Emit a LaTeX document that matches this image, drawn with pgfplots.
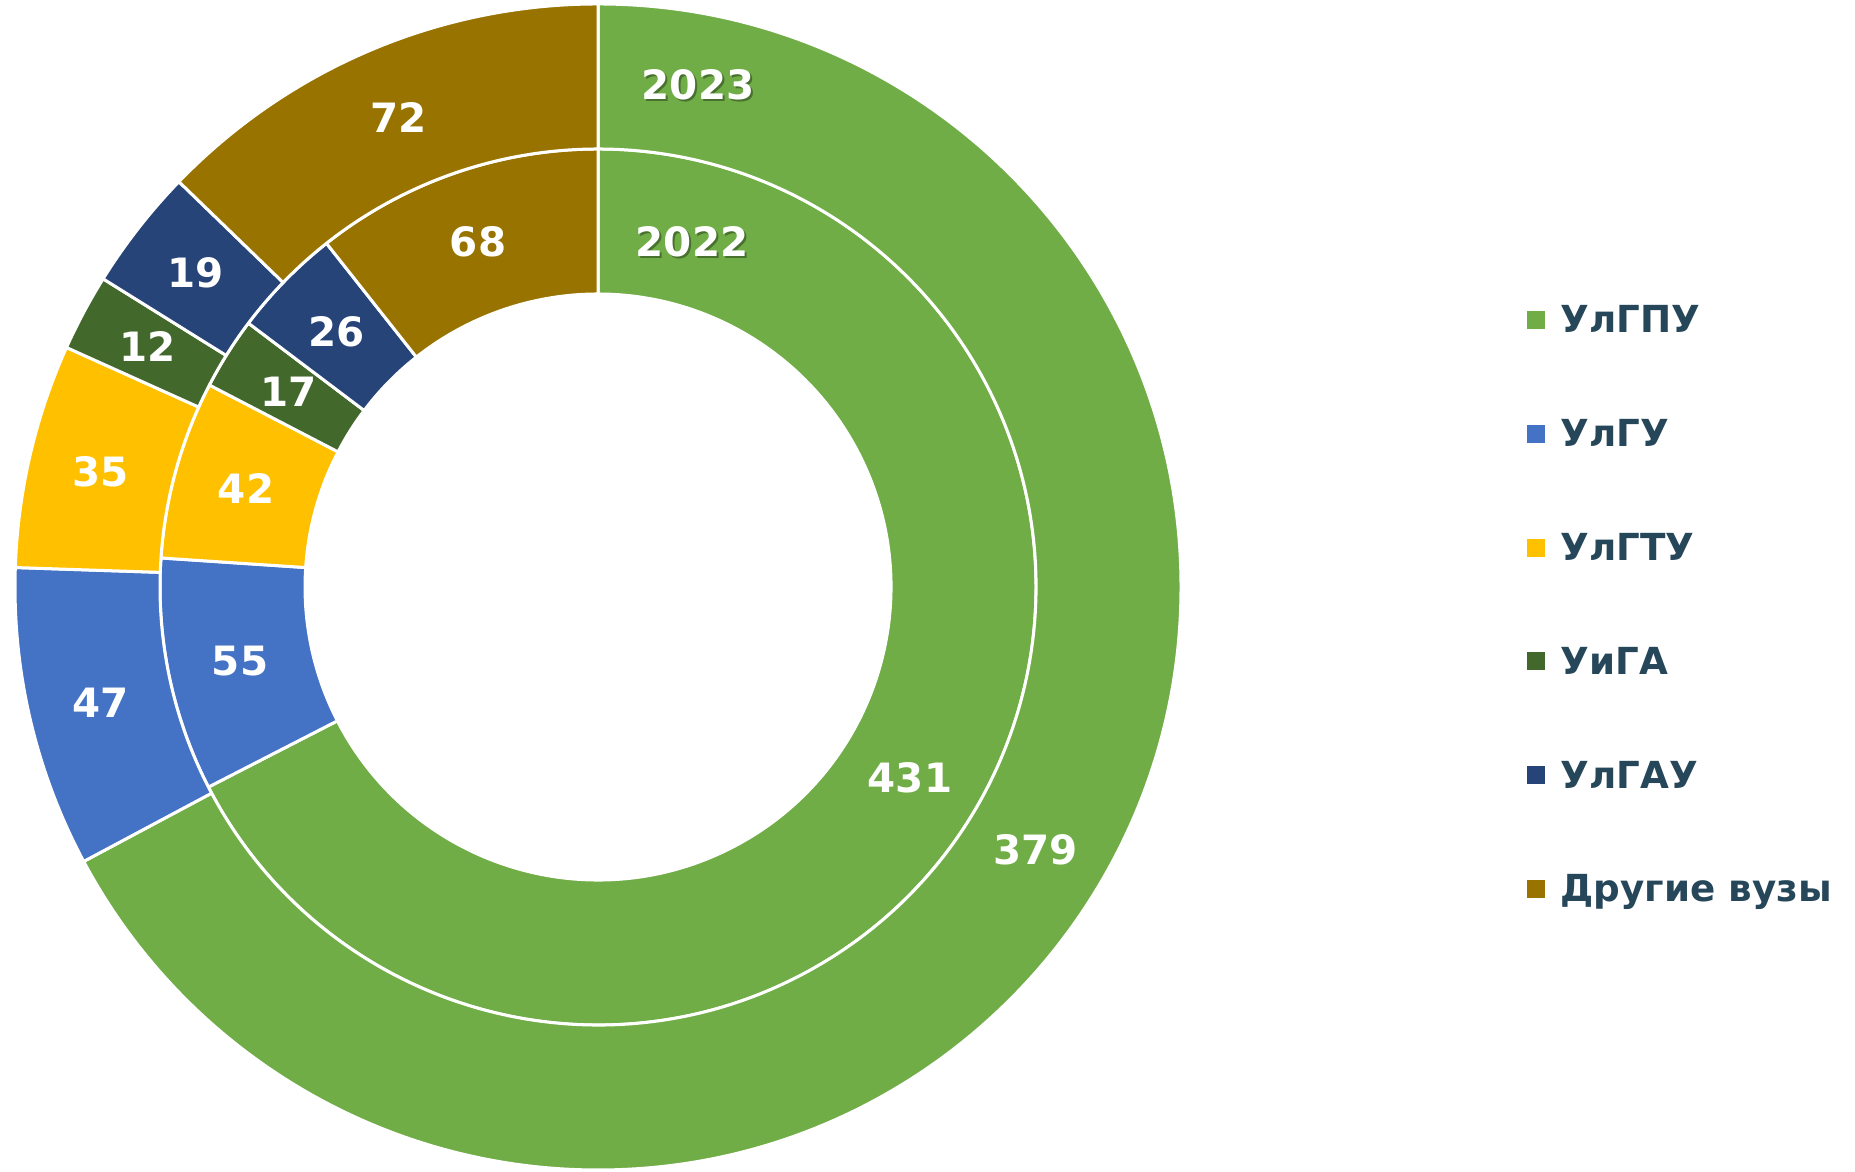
\documentclass[border=0pt]{standalone}
\usepackage{pgfplots}
\pgfplotsset{compat=1.18}
\usepackage{pgfplotstable}
\usepackage{fontspec}
\setmainfont{DejaVu Sans}

\definecolor{sec0}{HTML}{70AD47}
\definecolor{sec1}{HTML}{4472C4}
\definecolor{sec2}{HTML}{FFC000}
\definecolor{sec3}{HTML}{43682B}
\definecolor{sec4}{HTML}{264478}
\definecolor{sec5}{HTML}{997300}
\definecolor{legtext}{RGB}{38,70,90}

\tikzset{
  vlab/.style={text=white, inner sep=0pt, font=\bfseries\fontsize{11.5}{12}\selectfont},
  ltext/.style={text=legtext, inner sep=0pt, anchor=base west, font=\bfseries\fontsize{10.6}{12}\selectfont},
}

% students by university, 2022 (inner ring) and 2023 (outer ring)
\pgfplotstableread[col sep=comma]{
name,y2022,y2023
УлГПУ,431,379
УлГУ,55,47
УлГТУ,42,35
УиГА,17,12
УлГАУ,26,19
Другие вузы,68,72
}\data

% start/end angles of every slice, clockwise from 12 o'clock
\newcommand\ringangles[2]{%
  \def\tot{0}%
  \pgfplotsforeachungrouped \i in {0,...,5}{%
    \pgfplotstablegetelem{\i}{#1}\of\data
    \pgfmathsetmacro\tot{\tot+\pgfplotsretval}}%
  \def\cum{0}%
  \pgfplotsforeachungrouped \i in {0,...,5}{%
    \pgfplotstablegetelem{\i}{#1}\of\data
    \let\val\pgfplotsretval
    \pgfmathsetmacro\angA{90-360*(\cum/\tot)}%
    \pgfmathsetmacro\cum{\cum+\val}%
    \pgfmathsetmacro\angB{90-360*(\cum/\tot)}%
    \expandafter\xdef\csname #2a\i\endcsname{\angA}%
    \expandafter\xdef\csname #2b\i\endcsname{\angB}%
    \expandafter\xdef\csname #2v\i\endcsname{\val}%
  }}
\ringangles{y2022}{i}
\ringangles{y2023}{o}

% #1 colour, #2 inner r, #3 outer r, #4 start, #5 end
\newcommand\sector[5]{%
  \filldraw[fill=#1, draw=white, line width=0.3mm, line join=round]
    (axis cs:{#3*cos(#4)},{#3*sin(#4)}) arc[start angle=#4, end angle=#5, radius=#3*0.1mm]
    -- (axis cs:{#2*cos(#5)},{#2*sin(#5)}) arc[start angle=#5, end angle=#4, radius=#2*0.1mm] -- cycle;}
\newcommand\seclabel[5]{%
  \node[vlab] at (axis cs:{(#1+#2)/2*cos((#3+#4)/2)},{(#1+#2)/2*sin((#3+#4)/2)}) {#5};}

\begin{document}
\begin{tikzpicture}
\begin{axis}[
  x=0.1mm, y=0.1mm,
  xmin=-598, xmax=1257, ymin=-585, ymax=587,
  hide axis, clip=false,
]
\path (axis cs:-598,-585) rectangle (axis cs:1257,587);

\pgfplotsinvokeforeach{0,...,5}{%
  \edef\tmp{\noexpand\sector{sec#1}{293}{438}{\csname ia#1\endcsname}{\csname ib#1\endcsname}}\tmp
  \edef\tmp{\noexpand\sector{sec#1}{438}{583}{\csname oa#1\endcsname}{\csname ob#1\endcsname}}\tmp
}
\pgfplotsinvokeforeach{0,...,5}{%
  \edef\tmp{\noexpand\seclabel{293}{438}{\csname ia#1\endcsname}{\csname ib#1\endcsname}{\csname iv#1\endcsname}}\tmp
  \edef\tmp{\noexpand\seclabel{438}{583}{\csname oa#1\endcsname}{\csname ob#1\endcsname}{\csname ov#1\endcsname}}\tmp
}

% series names
\node[vlab, text=black, opacity=0.35] at (axis cs:102,500) {2023};
\node[vlab] at (axis cs:100,502) {2023};
\node[vlab, text=black, opacity=0.35] at (axis cs:96,343) {2022};
\node[vlab] at (axis cs:94,345) {2022};

% legend
\pgfplotsinvokeforeach{0,...,5}{%
  \pgfplotstablegetelem{#1}{name}\of\data
  \edef\tmp{\noexpand\fill[sec#1] (axis cs:929,{267-113.8*#1-9}) rectangle (axis cs:947,{267-113.8*#1+9});
    \noexpand\node[ltext] at (axis cs:962,{267-113.8*#1-13}) {\pgfplotsretval};}\tmp
}
\end{axis}
\end{tikzpicture}
\end{document}
